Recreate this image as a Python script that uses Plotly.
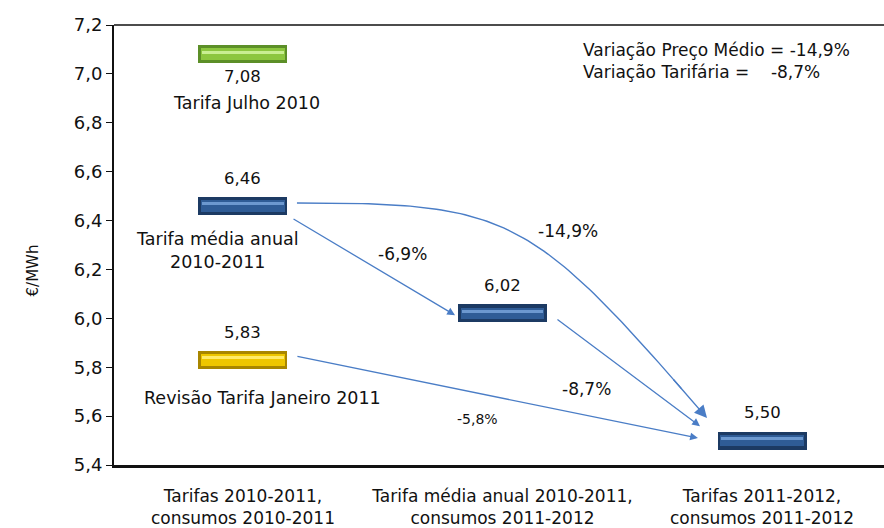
import plotly.graph_objects as go

# ---------------- data ----------------
categories = ["Tarifas 2010-2011,<br>consumos 2010-2011",
              "Tarifa média anual 2010-2011,<br>consumos 2011-2012",
              "Tarifas 2011-2012,<br>consumos 2011-2012"]
bar_cat = [0, 0, 0, 1, 2]
bar_values = [7.08, 6.46, 5.83, 6.02, 5.50]
bar_names = ["Tarifa Julho 2010", "Tarifa média anual<br>2010-2011",
             "Revisão Tarifa Janeiro 2011", "", ""]
bar_style = ["green", "blue", "yellow", "blue", "blue"]
arrow_from = [1, 3, 2]          # straight arrows: bar index -> bar index
arrow_to = [3, 4, 4]
arrow_text = ["-6,9%", "-8,7%", "-5,8%"]
curve_from, curve_to, curve_text = 1, 4, "-14,9%"
summary = ["Variação Preço Médio = -14,9%",
           "Variação Tarifária =\u00a0\u00a0\u00a0\u00a0-8,7%"]
y_ticks = [5.4, 5.6, 5.8, 6.0, 6.2, 6.4, 6.6, 6.8, 7.0, 7.2]

# ---------------- styling ----------------
FONT = "DejaVu Sans"
palette = {
    "green": ("#5C8F28", "#8CC63F", "#C9EE92"),
    "blue": ("#1C3A63", "#2F5C96", "#6C98CF"),
    "yellow": ("#A88600", "#EEC600", "#FFEB6A"),
}
ARROW = "#4A7DC6"
BW = 0.343     # bar width (x units)
BH = 0.074     # bar height (y units)

fig = go.Figure()

# bevelled bars: dark edge, mid body, light highlight
for layer, (wf, hf, off) in enumerate([(0, 0, 0), (0.022, 0.026, 0.0), (0.03, 0.062, 0.008)]):
    fig.add_trace(go.Bar(
        x=bar_cat,
        y=[BH - hf] * len(bar_values),
        base=[v - (BH - hf) / 2 + off for v in bar_values],
        width=BW - wf,
        marker=dict(color=[palette[s][layer] for s in bar_style], line=dict(width=0)),
        hoverinfo="skip", showlegend=False,
    ))

annotations = []

# value labels and names
name_pos = {0: (0.015, -0.199), 1: (-0.1, -0.181), 2: (0.077, -0.156)}
for i, v in enumerate(bar_values):
    lab = f"{v:.2f}".replace(".", ",")
    dy = -0.089 if i == 0 else 0.113
    annotations.append(dict(x=bar_cat[i], y=v + dy, text=lab, showarrow=False,
                            font=dict(size=16.5, color="#111")))
    if bar_names[i]:
        dx, ddy = name_pos[i]
        annotations.append(dict(x=bar_cat[i] + dx, y=v + ddy, text=bar_names[i],
                                showarrow=False, font=dict(size=17.5, color="#111")))

# straight arrows
tails = {1: (0.189, -0.05), 3: (0.206, -0.02), 2: (0.204, 0.016)}
heads = {(1, 3): (-0.183, -0.007), (3, 4): (-0.239, 0.059), (2, 4): (-0.247, 0.01)}
txt_pos = [(0.613, 6.263), (1.322, 5.711), (0.902, 5.588)]
for k, (a, b) in enumerate(zip(arrow_from, arrow_to)):
    tx, ty = tails[a]
    hx, hy = heads[(a, b)]
    annotations.append(dict(
        x=bar_cat[b] + hx, y=bar_values[b] + hy,
        ax=bar_cat[a] + tx, ay=bar_values[a] + ty,
        axref="x", ayref="y", xref="x", yref="y", text="",
        showarrow=True, arrowhead=2, arrowsize=1.2, arrowwidth=1.3,
        arrowcolor=ARROW, standoff=0, startstandoff=0))
    annotations.append(dict(x=txt_pos[k][0], y=txt_pos[k][1], text=arrow_text[k],
                            showarrow=False,
                            font=dict(size=14 if k == 2 else 17, color="#111")))

# curved arrow (cubic bezier, control points near the tangent corner)
sx, sy = bar_cat[curve_from] + 0.208, bar_values[curve_from] + 0.012
ex, ey = bar_cat[curve_to] - 0.212, bar_values[curve_to] + 0.092
dx, dy = ex - sx, ey - sy
p1 = (sx + 0.52 * dx, sy)
p2 = (sx + 0.57 * dx, sy + 0.05 * dy)
ts = [i / 80 for i in range(81)]
def bez(t):
    u = 1 - t
    return (u**3 * sx + 3 * u * u * t * p1[0] + 3 * u * t * t * p2[0] + t**3 * ex,
            u**3 * sy + 3 * u * u * t * p1[1] + 3 * u * t * t * p2[1] + t**3 * ey)
pts = [bez(t) for t in ts if t <= 0.95]
fig.add_trace(go.Scatter(x=[p[0] for p in pts], y=[p[1] for p in pts], mode="lines",
                         line=dict(color=ARROW, width=1.4), hoverinfo="skip",
                         showlegend=False))
ax_, ay_ = bez(0.93)
annotations.append(dict(x=ex, y=ey, ax=ax_, ay=ay_, axref="x", ayref="y",
                        xref="x", yref="y", text="", showarrow=True, arrowhead=2,
                        arrowsize=1.8, arrowwidth=1.4, arrowcolor=ARROW,
                        standoff=0, startstandoff=0))
annotations.append(dict(x=1.252, y=6.357, text=curve_text, showarrow=False,
                        font=dict(size=17, color="#111")))

# summary box text
annotations.append(dict(xref="paper", yref="paper", x=0.607, y=0.918,
                        xanchor="left", yanchor="middle", align="left",
                        text="<br>".join(summary), showarrow=False,
                        font=dict(size=17, color="#111")))
# y title
annotations.append(dict(xref="paper", yref="paper", x=-0.119, y=0.443,
                        text="€/MWh", textangle=-90, showarrow=False,
                        font=dict(size=15, color="#111")))

fig.update_layout(
    width=884, height=528,
    margin=dict(l=114, r=0, t=25, b=63, autoexpand=False),
    paper_bgcolor="white", plot_bgcolor="white",
    barmode="overlay", bargap=0,
    separators=", ",
    font=dict(family=FONT, color="#111"),
    annotations=annotations,
    showlegend=False,
    shapes=[dict(type="line", xref="paper", yref="paper", x0=0, x1=1, y0=1, y1=1,
                 line=dict(color="#111", width=1.5))],
)
fig.update_xaxes(range=[-0.497, 2.470], tickvals=[0, 1, 2], ticktext=categories,
                 showgrid=False, zeroline=False, showline=True, linecolor="#111",
                 linewidth=2.5, ticks="", tickfont=dict(size=17), automargin=False,
                 ticklabelstandoff=14)
fig.update_yaxes(range=[5.4, 7.2], tickvals=y_ticks, tickformat=".1f",
                 showgrid=False, zeroline=False, showline=True, linecolor="#111",
                 linewidth=2, ticks="outside", ticklen=6, tickcolor="#111",
                 tickfont=dict(size=18), automargin=False)

post = ("document.body.style.margin='0';document.body.style.padding='0';"
        "document.body.style.overflow='hidden';"
        "var gd=document.getElementById('{plot_id}');"
        "Plotly.relayout(gd,{width:884,height:528});")
fig.write_html("out.html", post_script=post, config={"displayModeBar": False})
